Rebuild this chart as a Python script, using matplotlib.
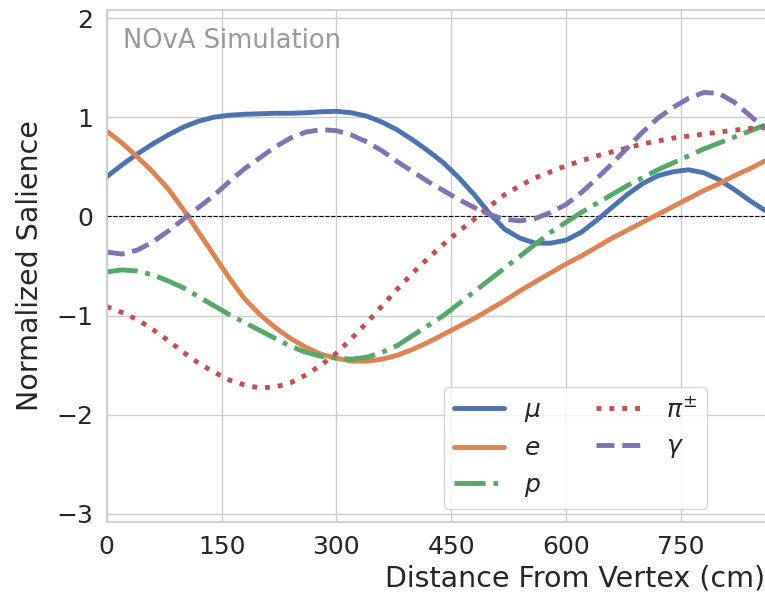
import matplotlib
matplotlib.use("Agg")
import matplotlib.pyplot as plt
import seaborn as sns

sns.set_theme(style="whitegrid", palette="deep")
plt.rcParams["font.family"] = ["DejaVu Sans"]

# distance from vertex (cm), sampled every 20 cm
distance = list(range(0, 861, 20))

muon = [0.40, 0.52, 0.63, 0.73, 0.82, 0.90, 0.96, 1.00, 1.02, 1.03, 1.035,
        1.04, 1.04, 1.045, 1.055, 1.06, 1.045, 1.01, 0.95, 0.87, 0.77, 0.66,
        0.54, 0.39, 0.22, 0.03, -0.13, -0.22, -0.27, -0.27, -0.24, -0.16,
        -0.04, 0.09, 0.22, 0.33, 0.41, 0.45, 0.47, 0.44, 0.37, 0.27, 0.16,
        0.06]
electron = [0.86, 0.74, 0.60, 0.45, 0.28, 0.07, -0.16, -0.39, -0.62, -0.83,
            -0.99, -1.12, -1.23, -1.32, -1.39, -1.43, -1.46, -1.46, -1.44,
            -1.40, -1.34, -1.27, -1.19, -1.11, -1.03, -0.94, -0.85, -0.75,
            -0.66, -0.57, -0.48, -0.40, -0.31, -0.22, -0.14, -0.06, 0.02,
            0.10, 0.18, 0.26, 0.33, 0.41, 0.48, 0.56]
proton = [-0.56, -0.54, -0.55, -0.59, -0.65, -0.72, -0.81, -0.90, -0.99,
          -1.07, -1.15, -1.23, -1.31, -1.37, -1.41, -1.43, -1.44, -1.42,
          -1.37, -1.30, -1.20, -1.10, -1.00, -0.88, -0.76, -0.64, -0.52,
          -0.40, -0.28, -0.16, -0.06, 0.04, 0.13, 0.22, 0.31, 0.39, 0.47,
          0.54, 0.61, 0.68, 0.74, 0.80, 0.86, 0.92]
pion = [-0.91, -0.97, -1.04, -1.14, -1.25, -1.37, -1.48, -1.57, -1.65, -1.70,
        -1.73, -1.72, -1.68, -1.60, -1.50, -1.38, -1.23, -1.07, -0.90, -0.73,
        -0.57, -0.42, -0.28, -0.15, -0.03, 0.10, 0.22, 0.31, 0.39, 0.45,
        0.51, 0.56, 0.61, 0.65, 0.69, 0.73, 0.76, 0.79, 0.81, 0.83, 0.85,
        0.87, 0.885, 0.90]
photon = [-0.36, -0.38, -0.34, -0.26, -0.15, -0.03, 0.09, 0.21, 0.35, 0.48,
          0.59, 0.70, 0.79, 0.85, 0.875, 0.865, 0.82, 0.75, 0.66, 0.55, 0.45,
          0.35, 0.26, 0.17, 0.09, 0.02, -0.03, -0.045, -0.02, 0.04, 0.12,
          0.24, 0.38, 0.53, 0.69, 0.85, 0.99, 1.10, 1.19, 1.25, 1.24, 1.15,
          1.02, 0.88]

series = [
    (r"$\mu$", muon, "-"),
    (r"$e$", electron, "-"),
    (r"$p$", proton, "-."),
    (r"$\pi^{\pm}$", pion, ":"),
    (r"$\gamma$", photon, "--"),
]

fig, ax = plt.subplots(figsize=(7.65, 5.97), dpi=100)
fig.subplots_adjust(left=0.1395, right=1.0, bottom=0.126, top=0.983)

ax.axhline(0, color="black", linestyle="--", linewidth=0.8)
for label, vals, ls in series:
    ax.plot(distance, vals, linestyle=ls, linewidth=3.5, label=label)

ax.set_xlim(0, 860)
ax.set_ylim(-3.08, 2.08)
ax.set_xticks([0, 150, 300, 450, 600, 750])
ax.set_yticks([-3, -2, -1, 0, 1, 2])
ax.tick_params(labelsize=18)
ax.spines["right"].set_visible(False)

ax.set_xlabel("Distance From Vertex (cm)", fontsize=20.5, loc="right")
ax.set_ylabel("Normalized Salience", fontsize=20.5, labelpad=9)

ax.text(0.024, 0.965, "NOvA Simulation", transform=ax.transAxes,
        fontsize=18.5, color="#999999", ha="left", va="top")

ax.legend(ncol=2, fontsize=18, loc="lower right", borderaxespad=0,
          columnspacing=2.2, bbox_to_anchor=(0.912, 0.025))

fig.savefig("out.png", dpi=100)
